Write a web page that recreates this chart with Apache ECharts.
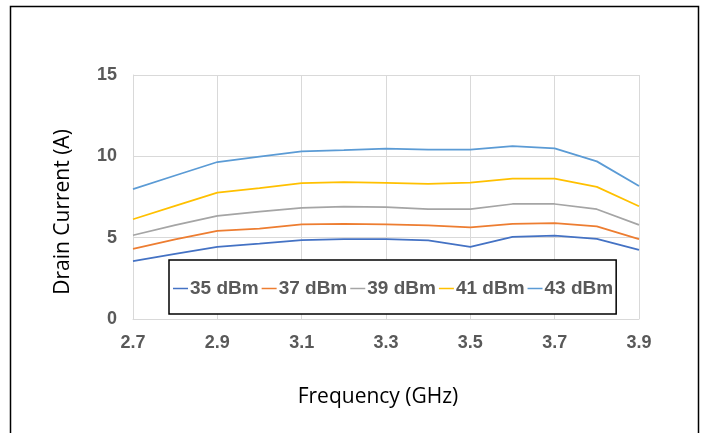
<!DOCTYPE html>
<html><head><meta charset="utf-8">
<script src="https://cdn.jsdelivr.net/npm/echarts@6/dist/echarts.min.js"></script>
<style>html,body{margin:0;padding:0;background:#fff}#c{width:704px;height:433px}</style>
</head><body><div id="c"></div>
<script>
const categories = ['2.7','2.8','2.9','3.0','3.1','3.2','3.3','3.4','3.5','3.6','3.7','3.8','3.9'];
const s35 = [3.56, 4.00, 4.44, 4.63, 4.85, 4.91, 4.91, 4.83, 4.44, 5.05, 5.13, 4.93, 4.25];
const s37 = [4.31, 4.90, 5.42, 5.55, 5.81, 5.85, 5.81, 5.75, 5.64, 5.85, 5.89, 5.69, 4.91];
const s39 = [5.15, 5.77, 6.34, 6.60, 6.83, 6.91, 6.87, 6.75, 6.75, 7.07, 7.07, 6.75, 5.79];
const s41 = [6.13, 6.95, 7.77, 8.05, 8.36, 8.42, 8.37, 8.30, 8.38, 8.63, 8.63, 8.12, 6.93];
const s43 = [7.98, 8.82, 9.65, 9.98, 10.31, 10.38, 10.47, 10.41, 10.41, 10.63, 10.49, 9.69, 8.18];
const seriesNames = ['35 dBm','37 dBm','39 dBm','41 dBm','43 dBm'];
const seriesColors = ['#4472C4','#ED7D31','#A5A5A5','#FFC000','#5B9BD5'];
const yTicks = [0, 5, 10, 15];

const chart = echarts.init(document.getElementById('c'), null, {renderer:'canvas'});
const allData = [s35, s37, s39, s41, s43];
chart.setOption({
  animation: false,
  backgroundColor: '#fff',
  grid: {left: 133, right: 65, top: 75, bottom: 114},
  legend: {
    data: seriesNames.map(n => ({name: n, icon: 'rect'})),
    left: 169, top: 260,
    padding: [19, 3, 16, 4],
    itemGap: 3,
    itemWidth: 15, itemHeight: 1.5,
    borderColor: '#000', borderWidth: 1.5,
    backgroundColor: '#fff',
    textStyle: {fontFamily: 'Liberation Sans, Arial', fontWeight: 'bold', fontSize: 19, lineHeight: 19, color: '#595959', padding: [0,0,0,-3]}
  },
  xAxis: {
    type: 'category', data: categories, boundaryGap: false,
    axisLine: {lineStyle: {color: '#d9d9d9', width: 1}},
    axisTick: {show: false},
    axisLabel: {interval: 1, fontFamily: 'Liberation Sans, Arial', fontWeight: 'bold', fontSize: 18, color: '#595959', margin: 15},
    splitLine: {show: true, interval: 1, lineStyle: {color: '#d9d9d9', width: 1}}
  },
  yAxis: {
    type: 'value', min: yTicks[0], max: yTicks[yTicks.length-1], interval: yTicks[1]-yTicks[0],
    axisLine: {show: true, lineStyle: {color: '#d9d9d9', width: 1}},
    axisTick: {show: false},
    axisLabel: {fontFamily: 'Liberation Sans, Arial', fontWeight: 'bold', fontSize: 18, color: '#595959', margin: 16},
    splitLine: {show: true, lineStyle: {color: '#d9d9d9', width: 1}}
  },
  series: allData.map((d, i) => ({
    name: seriesNames[i], type: 'line', data: d, symbol: 'none',
    lineStyle: {color: seriesColors[i], width: 1.75}, itemStyle: {color: seriesColors[i]}
  })),
  graphic: [
    {type: 'rect', shape: {x: 10.5, y: 6.5, width: 688, height: 440}, style: {fill: 'none', stroke: '#000', lineWidth: 1.5}, z: -1},
    {type: 'text', x: 378, y: 397, style: {text: 'Frequency (GHz)', font: '21px "Open Sans", "Noto Sans", sans-serif', fill: '#000', align: 'center', verticalAlign: 'middle'}},
    {type: 'text', x: 63, y: 212, rotation: Math.PI/2, style: {text: 'Drain Current (A)', font: '21px "Open Sans", "Noto Sans", sans-serif', fill: '#000', align: 'center', verticalAlign: 'middle'}}
  ]
});
</script></body></html>
